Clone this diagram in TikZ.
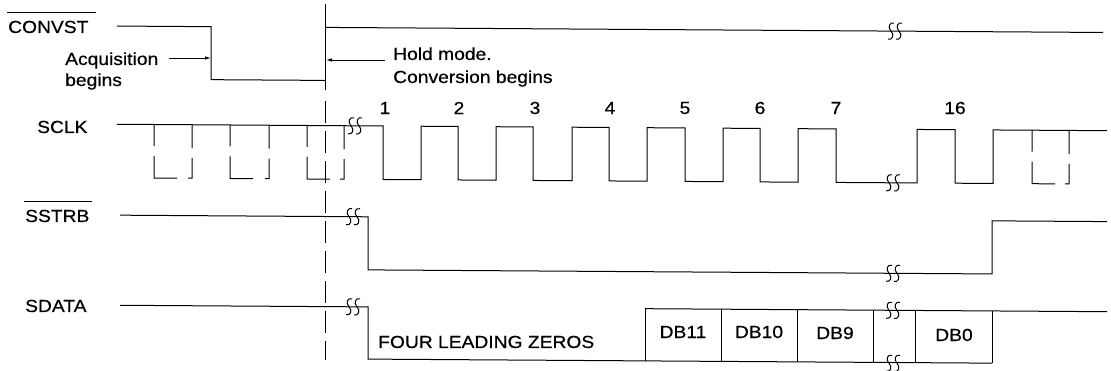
\documentclass[tikz,border=0pt]{standalone}
\usepackage{fontspec}
\setmainfont{Liberation Sans}[FakeStretch=1.1,FakeBold=0.5]
\usetikzlibrary{arrows.meta}
\tikzset{
  lbl/.style={font=\fontsize{17.5}{21}\selectfont, inner sep=0pt, anchor=base west},
  ctr/.style={font=\fontsize{17.5}{21}\selectfont, inner sep=0pt, anchor=center},
  wave/.style={line width=1pt, line join=miter, line cap=butt},
  guide/.style={line width=1pt, dash pattern=on 22pt off 8pt},
  ptr/.style={line width=0.9pt, -{Latex[length=6pt,width=3.5pt]}}
}
\newcommand\brkmark[1]{%
  \begin{scope}[shift={#1}]
    \draw[line width=1pt] (-1,-8) .. controls (-5,-9.5) and (-8,-4) .. (-4,0) .. controls (0,4) and (-3,9.5) .. (-7,8);
    \draw[line width=1pt] (7,-8) .. controls (3,-9.5) and (0,-4) .. (4,0) .. controls (8,4) and (5,9.5) .. (1,8);
  \end{scope}}
\newcommand\dpulse[2]{%
  \draw[wave] (#1,123.5) -- (#1,145) (#1,155) -- (#1,177) -- ({#1+23},177)
    ({#2-4},177) -- (#2,177) -- (#2,157) (#2,147) -- (#2,123.5);}
\begin{document}
\begin{tikzpicture}[x=1pt,y=-1pt]
\useasboundingbox (0,0) rectangle (1111,371);
% signal names
\node[lbl] (convst) at (8,33) {CONVST};
\draw[wave] ([xshift=-1pt,yshift=8pt]convst.north west) -- ([xshift=7pt,yshift=8pt]convst.north east);
\node[lbl] (sclk) at (37,133) {SCLK};
\node[lbl] (sstrb) at (25,222) {SSTRB};
\draw[wave] ([xshift=-1pt,yshift=8.5pt]sstrb.north west) -- ([xshift=2pt,yshift=8.5pt]sstrb.north east);
\node[lbl] (sdata) at (25,312) {SDATA};
% annotations
\node[lbl] (acq) at (65,65) {Acquisition};
\node[lbl] (acq2) at (65,86) {begins};
\node[lbl] (hold) at (393,60) {Hold mode.};
\node[lbl] (hold2) at (393,83) {Conversion begins};
\coordinate (acqs) at (169,58);
\coordinate (acqe) at (211,58);
\coordinate (holds) at (385,60);
\coordinate (holde) at (326,60);
\draw[ptr] (acqs) -- (acqe);
\draw[ptr] (holds) -- (holde);
% clock numbers
\node[ctr] (n1) at (385,108) {1};
\node[ctr] (n2) at (459,108) {2};
\node[ctr] (n3) at (535,108) {3};
\node[ctr] (n4) at (610,108) {4};
\node[ctr] (n5) at (685,108) {5};
\node[ctr] (n6) at (760,108) {6};
\node[ctr] (n7) at (836,108) {7};
\node[ctr] (n16) at (955,108) {16};
% data labels
\node[lbl] (four) at (378,348) {FOUR LEADING ZEROS};
\node[ctr] (db11) at (683,332) {DB11};
\node[ctr] (db10) at (759,332) {DB10};
\node[ctr] (db9) at (835,333) {DB9};
\node[ctr] (db0) at (954,335) {DB0};
% guide line
\draw[wave] (325.5,4) -- (325.5,90);
\draw[guide] (325.5,101) -- (325.5,360);
% waveforms (slight scan skew)
\begin{scope}[yslant=-0.0065]
  % CONVST
  \draw[wave] (117,25.3) -- (211,25.3) -- (211,78.3) -- (325.5,78.3);
  \draw[wave] (325.5,25.3) -- (1103,25.3);
  \brkmark{(895,25.3)}
  % SCLK
  \draw[wave] (117,123.5) -- (383,123.5) -- (383,177) -- (421,177) -- (421,123.5)
    -- (458,123.5) -- (458,177) -- (496,177) -- (496,123.5)
    -- (533,123.5) -- (533,177) -- (572,177) -- (572,123.5)
    -- (609,123.5) -- (609,177) -- (647,177) -- (647,123.5)
    -- (685,123.5) -- (685,177) -- (723,177) -- (723,123.5)
    -- (760,123.5) -- (760,177) -- (798,177) -- (798,123.5)
    -- (836,123.5) -- (836,177) -- (917,177) -- (917,123.5)
    -- (955,123.5) -- (955,177) -- (993,177) -- (993,123.5) -- (1107,123.5);
  \dpulse{154}{192}
  \dpulse{230}{269}
  \dpulse{307}{344}
  \dpulse{1032}{1069}
  \brkmark{(355,123.5)}
  \brkmark{(893,177)}
  % SSTRB
  \draw[wave] (120,214.4) -- (368,214.4) -- (368,267.5) -- (992,267.5) -- (992,214.4) -- (1107,214.4);
  \brkmark{(353,214.4)}
  \brkmark{(893,267.5)}
  % SDATA
  \draw[wave] (120,304.5) -- (368,304.5) -- (368,356.7) -- (992,356.7);
  \draw[wave] (645,304.5) -- (1107,304.5);
  \foreach \xx in {645,721,797,873,915,992} \draw[wave] (\xx,304.5) -- (\xx,356.7);
  \brkmark{(353,304.5)}
  \brkmark{(893,304.5)}
  \brkmark{(893,357.5)}
\end{scope}
\end{tikzpicture}
\end{document}
